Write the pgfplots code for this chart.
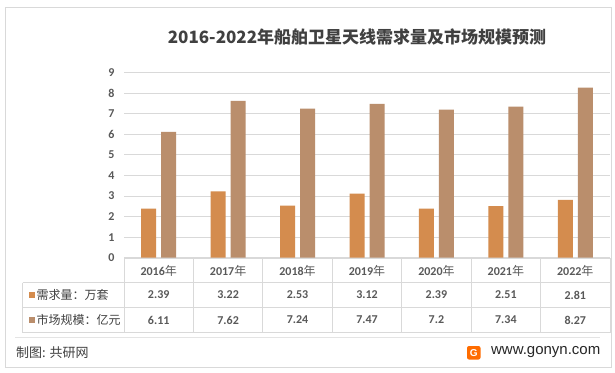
\documentclass[border=0pt]{standalone}
\usepackage{fontspec}
\usepackage{pgfplots}
\pgfplotsset{compat=1.18}
\setmainfont{Carlito}
\newfontfamily\cjk{Noto Sans CJK SC}
\newfontfamily\webfont{Liberation Sans}
\definecolor{cA}{HTML}{D48C4E}
\definecolor{cB}{HTML}{BA8E6C}
\definecolor{txt}{HTML}{595959}
\definecolor{ttl}{HTML}{404040}
\definecolor{gridc}{HTML}{D9D9D9}
\begin{document}
\begin{tikzpicture}
\path[use as bounding box] (0pt,0pt) rectangle (615pt,-372pt);
\fill[white] (0pt,0pt) rectangle (615pt,-372pt);
\draw[gridc, line width=1pt] (5.5pt,-7.5pt) rectangle (611pt,-367.5pt);
\begin{axis}[
  at={(124pt,-257.7pt)}, anchor=south west,
  scale only axis, width=486pt, height=185.2pt,
  xmin=-0.5, xmax=6.5, ymin=0, ymax=9,
  axis line style={draw=none},
  ytick={0,1,2,3,4,5,6,7,8,9}, xtick=\empty,
  yticklabel={\mbox{\fontsize{12}{14}\selectfont\bfseries\pgfmathprintnumber[assume math mode=true]{\tick}}},
  ymajorgrids, grid style={gridc, line width=0.9pt},
  major tick length=0pt,
  y tick label style={text=txt, xshift=-6pt},
  ybar, bar width=15pt,
  clip=false,
]
\addplot[fill=cA, draw=none, bar shift=-10pt] coordinates {(0,2.39) (1,3.22) (2,2.53) (3,3.12) (4,2.39) (5,2.51) (6,2.81)};
\addplot[fill=cB, draw=none, bar shift=10pt] coordinates {(0,6.11) (1,7.62) (2,7.24) (3,7.47) (4,7.2) (5,7.34) (6,8.27)};
\end{axis}
% title
\node[font=\cjk\bfseries\fontsize{17}{20}\selectfont, text=ttl] at (357pt,-37pt) {2016-2022年船舶卫星天线需求量及市场规模预测};
% data table
\draw[gridc, line width=0.9pt] (124pt,-258pt) -- (610pt,-258pt);
\foreach \yy in {282.5,307.5,332.5} \draw[gridc, line width=0.9pt] (22.5pt,-\yy pt) -- (610pt,-\yy pt);
\draw[gridc, line width=0.9pt] (22.5pt,-282.5pt) -- (22.5pt,-332.5pt);
\foreach \k in {0,...,7} \draw[gridc, line width=0.9pt] ({124pt+\k*69.43pt},-258pt) -- ({124pt+\k*69.43pt},-332.5pt);
\foreach \yr [count=\i from 0] in {2016,2017,2018,2019,2020,2021,2022}
  \node[text=txt, font=\bfseries\fontsize{12}{14}\selectfont, inner sep=0pt] at ({158.7pt+\i*69.43pt},-270.5pt) {\yr{\cjk\mdseries 年}};
\foreach \v [count=\i from 0] in {2.39,3.22,2.53,3.12,2.39,2.51,2.81}
  \node[text=txt, font=\bfseries\fontsize{12}{14}\selectfont, inner sep=0pt] at ({158.7pt+\i*69.43pt},-295pt) {\v};
\foreach \v [count=\i from 0] in {6.11,7.62,7.24,7.47,7.2,7.34,8.27}
  \node[text=txt, font=\bfseries\fontsize{12}{14}\selectfont, inner sep=0pt] at ({158.7pt+\i*69.43pt},-320pt) {\v};
\fill[cA] (29pt,-291.5pt) rectangle (35pt,-297.5pt);
\fill[cB] (29pt,-316.5pt) rectangle (35pt,-322.5pt);
\node[anchor=west, inner sep=0pt, text=ttl, font=\cjk\fontsize{12}{14}\selectfont] at (36.5pt,-295pt) {需求量：万套};
\node[anchor=west, inner sep=0pt, text=ttl, font=\cjk\fontsize{12}{14}\selectfont] at (36.5pt,-320pt) {市场规模：亿元};
% footer
\draw[gridc!70, line width=0.8pt] (15pt,-337pt) -- (600pt,-337pt);
\node[anchor=west, inner sep=0pt, text=ttl, font=\cjk\fontsize{13}{15}\selectfont] at (16pt,-353pt) {制图: 共研网};
\node[anchor=east, inner sep=0pt, text=black!85, font=\webfont\fontsize{15}{17}\selectfont] at (600.5pt,-352pt) {www.gonyn.com};
\fill[orange!85!red, rounded corners=2pt] (467pt,-346pt) rectangle (480.5pt,-359.5pt);
\node[text=white, font=\webfont\bfseries\fontsize{10}{12}\selectfont, inner sep=0pt] at (473.8pt,-352.8pt) {G};
\end{tikzpicture}
\end{document}
